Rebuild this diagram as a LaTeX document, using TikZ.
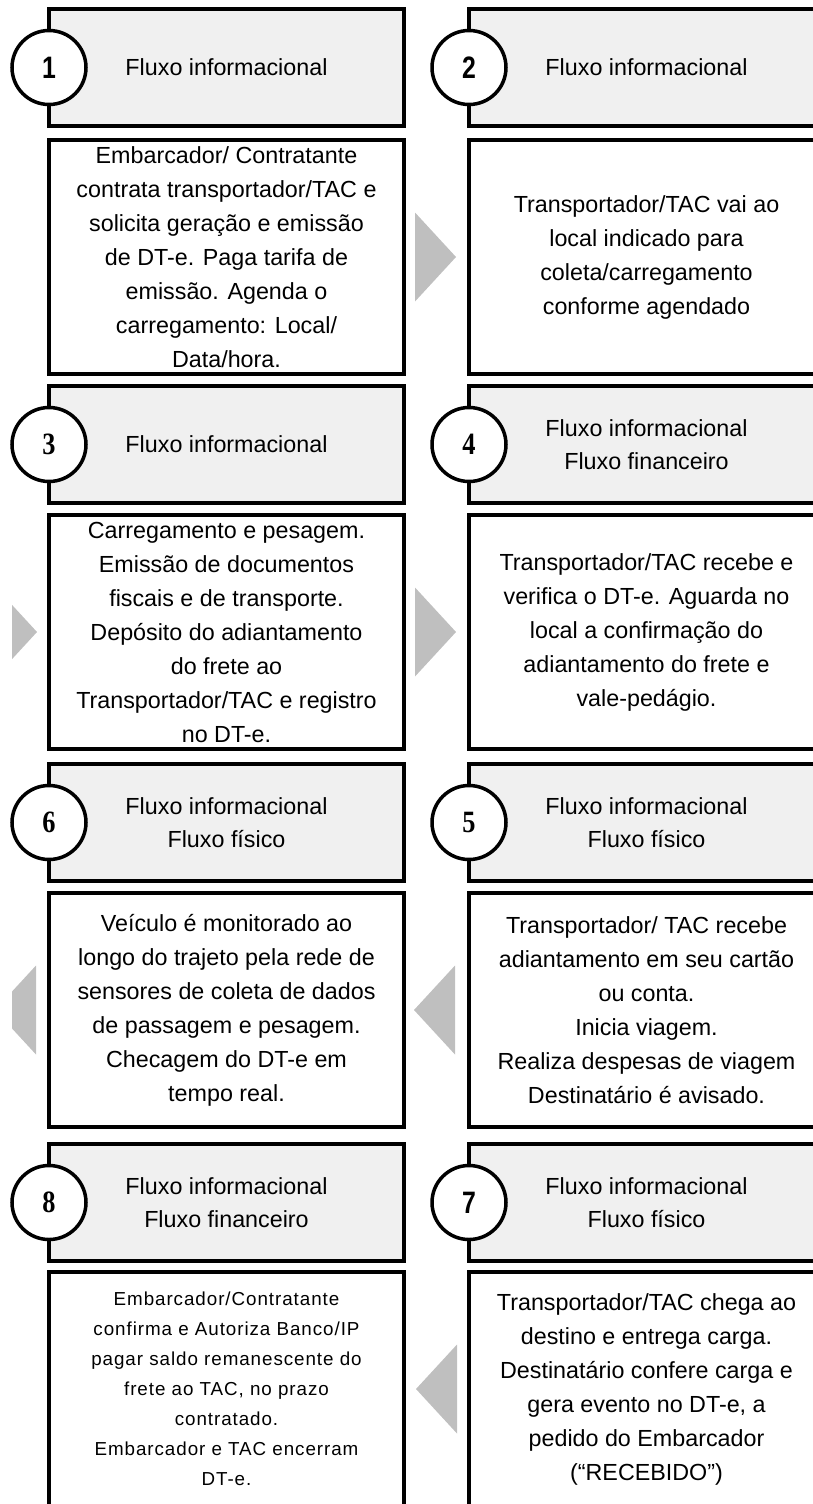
\documentclass[tikz,border=0pt]{standalone}
\usepackage{fontspec}
\setmainfont{Liberation Sans}
\newfontfamily\numsans{Liberation Sans}[FakeStretch=0.8, BoldFeatures={FakeStretch=0.8}]
\newfontfamily\numserif{Liberation Serif}[FakeStretch=0.85, BoldFeatures={FakeStretch=0.85}]
\newfontfamily\spacedfont{Liberation Sans}[LetterSpace=5]
\usetikzlibrary{calc}
\definecolor{hdrgray}{HTML}{F0F0F0}
\definecolor{chevron}{HTML}{BFBFBF}
\begin{document}
\begin{tikzpicture}[x=1pt,y=-1pt,
  frame/.style={draw=black, line width=4.5pt, outer sep=0pt, inner sep=0pt,
    minimum width=355pt},
  hdr/.style={frame, fill=hdrgray, minimum height=117pt},
  body/.style={frame, fill=white, minimum height=234pt},
  hdrtext/.style={align=center, inner sep=0pt, font=\fontsize{23.3}{33}\selectfont},
  bodytext/.style={align=center, inner sep=0pt, font=\fontsize{23.3}{34}\selectfont},
  smalltext/.style={align=center, inner sep=0pt, font=\spacedfont\fontsize{18.8}{30}\selectfont},
  num/.style={circle, draw=black, line width=3.5pt, fill=white, minimum size=74pt,
    inner sep=0pt},
  numA/.style={num, font=\numsans\bfseries\fontsize{31}{31}\selectfont},
  numB/.style={num, font=\numserif\bfseries\fontsize{31}{31}\selectfont},
  chev/.style={fill=chevron, draw=none}]

\useasboundingbox (0,0) rectangle (813,1504);
\clip (0,0) rectangle (813,1504);

% ---- step boxes: header (flow type) and body (description) ----
% row 1
\node[hdr]  (h1) at (226.5,67.5) {};
\node[body] (b1) at (226.5,257) {};
\node[hdr]  (h2) at (646.5,67.5) {};
\node[body] (b2) at (646.5,257) {};
% row 2
\node[hdr]  (h3) at (226.5,444.5) {};
\node[body] (b3) at (226.5,632) {};
\node[hdr]  (h4) at (646.5,444.5) {};
\node[body] (b4) at (646.5,632) {};
% row 3
\node[hdr]  (h6) at (226.5,822.5) {};
\node[body] (b6) at (226.5,1010) {};
\node[hdr]  (h5) at (646.5,822.5) {};
\node[body] (b5) at (646.5,1010) {};
% row 4
\node[hdr]  (h8) at (226.5,1202.5) {};
\node[body] (b8) at (226.5,1389) {};
\node[hdr]  (h7) at (646.5,1202.5) {};
\node[body] (b7) at (646.5,1389) {};

% ---- header texts ----
\node[hdrtext] (ht1) at (h1.center) {Fluxo informacional};
\node[hdrtext] (ht2) at (h2.center) {Fluxo informacional};
\node[hdrtext] (ht3) at (h3.center) {Fluxo informacional};
\node[hdrtext] (ht4) at (h4.center) {Fluxo informacional\\Fluxo financeiro};
\node[hdrtext] (ht6) at (h6.center) {Fluxo informacional\\Fluxo físico};
\node[hdrtext] (ht5) at (h5.center) {Fluxo informacional\\Fluxo físico};
\node[hdrtext] (ht8) at (h8.center) {Fluxo informacional\\Fluxo financeiro};
\node[hdrtext] (ht7) at (h7.center) {Fluxo informacional\\Fluxo físico};

% ---- body texts ----
\node[bodytext] (bt1) at (b1.center) {Embarcador/ Contratante\\contrata transportador/TAC e\\solicita geração e emissão\\de DT-e. Paga tarifa de\\emissão. Agenda o\\carregamento: Local/\\Data/hora.};
\node[bodytext] (bt2) at (b2.center) {Transportador/TAC vai ao\\local indicado para\\coleta/carregamento\\conforme agendado};
\node[bodytext] (bt3) at (b3.center) {Carregamento e pesagem.\\Emissão de documentos\\fiscais e de transporte.\\Depósito do adiantamento\\do frete ao\\Transportador/TAC e registro\\no DT-e.};
\node[bodytext] (bt4) at (b4.center) {Transportador/TAC recebe e\\verifica o DT-e. Aguarda no\\local a confirmação do\\adiantamento do frete e\\vale-pedágio.};
\node[bodytext] (bt6) at (b6.center) {Veículo é monitorado ao\\longo do trajeto pela rede de\\sensores de coleta de dados\\de passagem e pesagem.\\Checagem do DT-e em\\tempo real.};
\node[bodytext] (bt5) at (b5.center) {Transportador/ TAC recebe\\adiantamento em seu cartão\\ou conta.\\Inicia viagem.\\Realiza despesas de viagem\\Destinatário é avisado.};
\node[smalltext] (bt8) at (b8.center) {Embarcador/Contratante\\confirma e Autoriza Banco/IP\\pagar saldo remanescente do\\frete ao TAC, no prazo\\contratado.\\Embarcador e TAC encerram\\DT-e.};
\node[bodytext] (bt7) at (b7.center) {Transportador/TAC chega ao\\destino e entrega carga.\\Destinatário confere carga e\\gera evento no DT-e, a\\pedido do Embarcador\\(“RECEBIDO”)};

% ---- step numbers ----
\node[numA] (n1) at (h1.west) {1};
\node[numA] (n2) at (h2.west) {2};
\node[numB] (n3) at (h3.west) {3};
\node[numB] (n4) at (h4.west) {4};
\node[numB] (n6) at (h6.west) {6};
\node[numB] (n5) at (h5.west) {5};
\node[numB] (n8) at (h8.west) {8};
\node[numA] (n7) at (h7.west) {7};

% ---- chevrons between steps ----
% 1 -> 2
\path[chev] ($(b2.west)+(-54,-44.5)$) -- ($(b2.west)+(-13,0)$) -- ($(b2.west)+(-54,44.5)$) -- cycle;
% 3 -> 4
\path[chev] ($(b4.west)+(-54,-44.5)$) -- ($(b4.west)+(-13,0)$) -- ($(b4.west)+(-54,44.5)$) -- cycle;
% 5 -> 6
\path[chev] ($(b5.west)+(-14,-44.5)$) -- ($(b5.west)+(-55,0)$) -- ($(b5.west)+(-14,44.5)$) -- cycle;
% 7 -> 8
\path[chev] ($(b7.west)+(-12,-44.5)$) -- ($(b7.west)+(-53,0)$) -- ($(b7.west)+(-12,44.5)$) -- cycle;
% chevrons at the left margin, cut off by the margin
\begin{scope}
  \clip (12,0) rectangle (813,1504);
  \path[chev] ($(b3.west)+(-53,-44.5)$) -- ($(b3.west)+(-12,0)$) -- ($(b3.west)+(-53,44.5)$) -- cycle;
  \path[chev] ($(b6.west)+(-13,-44.5)$) -- ($(b6.west)+(-54,0)$) -- ($(b6.west)+(-13,44.5)$) -- cycle;
\end{scope}
\end{tikzpicture}
\end{document}
